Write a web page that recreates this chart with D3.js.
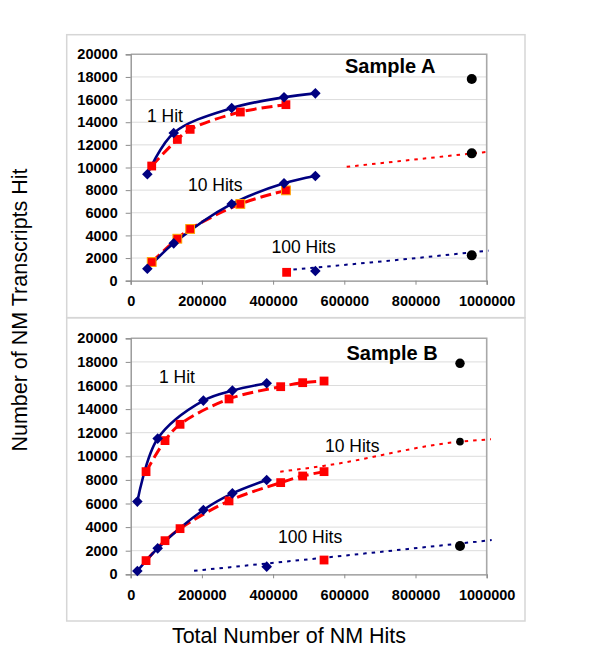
<!DOCTYPE html>
<html>
<head>
<meta charset="utf-8">
<script src="https://cdn.jsdelivr.net/npm/d3@7"></script>
<style>
  html, body { margin: 0; padding: 0; background: #fff; }
  svg text { font-family: "Liberation Sans", Arial, sans-serif; }
</style>
</head>
<body>
<svg id="chart" width="600" height="652"></svg>
<script>
// ---------------- DATA ----------------
const xTicks = [0, 200000, 400000, 600000, 800000, 1000000];
const yTicks = [0, 2000, 4000, 6000, 8000, 10000, 12000, 14000, 16000, 18000, 20000];

// Sample A
const aBlueX = [46800, 120800, 283700, 430700, 518700];
const aBlue1Hit = [9400, 13050, 15250, 16200, 16550];
const aBlue10Hits = [1060, 3300, 6780, 8600, 9250];
const aRedX = [59000, 131000, 167000, 308000, 436000];
const aRed1Hit = [10130, 12480, 13370, 14900, 15550];
const aRed10Hits = [1650, 3710, 4570, 6780, 7980];
const aBlue100X = [518700], aBlue100Hits = [850];
const aRed100X = [438000], aRed100Hits = [740];
const aTrend10X = [606700, 956000, 1005000];
const aTrend10Y = [10060, 11230, 11390];
const aTrend100X = [457000, 747000, 1005000];
const aTrend100Y = [990, 1830, 2660];
const aBlackX = [958000, 958000, 958000];
const aBlackY = [17820, 11250, 2240];

// Sample B
const bBlueX = [18700, 75800, 204100, 285600, 382000];
const bBlue1Hit = [6160, 11500, 14720, 15570, 16190];
const bBlue10Hits = [280, 2200, 5450, 6860, 7990];
const bRedX = [43100, 96400, 138600, 276200, 421300, 483100, 543100];
const bRed1Hit = [8700, 11330, 12710, 14860, 15900, 16240, 16380];
const bRed10Hits = [1160, 2850, 3870, 6220, 7770, 8330, 8700];
const bBlue100X = [382000], bBlue100Hits = [650];
const bRed100X = [543100], bRed100Hits = [1210];
const bTrend10X = [420000, 541000, 925000, 1012000];
const bTrend10Y = [8700, 9180, 11240, 11440];
const bTrend100X = [178000, 541000, 1014000];
const bTrend100Y = [300, 1400, 2900];
const bBlackX = [925000, 925000, 925000];
const bBlackY = [17880, 11240, 2400];

// ---------------- DRAW ----------------
const svg = d3.select("#chart");
const BLUE = "#000080", RED = "#ff0000";
const zip = (xs, ys) => xs.map((x, i) => [x, ys[i]]);

function panel(cfg) {
  const g = svg.append("g");
  g.append("rect").attr("x", 66.7).attr("y", cfg.boxTop).attr("width", 525 - 66.7)
    .attr("height", cfg.boxBottom - cfg.boxTop).attr("fill", "none")
    .attr("stroke", "#d6d6d6").attr("stroke-width", 1.5);

  const x = d3.scaleLinear().domain([0, 1000000]).range([130.7, 486.7]);
  const y = d3.scaleLinear().domain([0, 20000]).range([cfg.y0, cfg.y1]);

  g.append("g").selectAll("line").data(yTicks.filter(d => d > 0 && d < 20000)).join("line")
    .attr("x1", x(0)).attr("x2", x(1000000)).attr("y1", d => y(d)).attr("y2", d => y(d))
    .attr("stroke", "#dcdcdc").attr("stroke-width", 1);
  g.append("path").attr("d", `M${x(0)},${y(20000)}H${x(1000000)}V${y(0)}`)
    .attr("fill", "none").attr("stroke", "#a8a8a8").attr("stroke-width", 1.6);

  const yAxis = d3.axisLeft(y).tickValues(yTicks).tickSize(5).tickPadding(8).tickFormat(d3.format("d"));
  const xAxis = d3.axisBottom(x).tickValues(xTicks).tickSize(4).tickPadding(11).tickFormat(d3.format("d"));
  const ya = g.append("g").attr("transform", `translate(${x(0)},0)`).call(yAxis);
  const xa = g.append("g").attr("transform", `translate(0,${y(0)})`).call(xAxis);
  [ya, xa].forEach(a => {
    a.select(".domain").attr("stroke", "#8c8c8c").attr("stroke-width", 1.3);
    a.selectAll(".tick line").attr("stroke", "#8c8c8c");
    a.selectAll("text").attr("font-size", 14.5).attr("font-weight", "bold").attr("fill", "#000")
      .attr("font-family", "Liberation Sans, Arial, sans-serif");
  });

  const smooth = d3.line().x(d => x(d[0])).y(d => y(d[1])).curve(d3.curveCatmullRom.alpha(0.5));
  const trendLine = d3.line().x(d => x(d[0])).y(d => y(d[1])).curve(d3.curveMonotoneX);

  cfg.trends.forEach(t => {
    g.append("path").attr("d", trendLine(zip(t.x, t.y))).attr("fill", "none")
      .attr("stroke", t.color).attr("stroke-width", 2).attr("stroke-dasharray", "3.5,5");
  });

  cfg.red.forEach(s => {
    g.append("path").attr("d", smooth(zip(s.x, s.y))).attr("fill", "none")
      .attr("stroke", RED).attr("stroke-width", 3).attr("stroke-dasharray", "11,5");
  });
  cfg.blue.forEach(s => {
    g.append("path").attr("d", smooth(zip(s.x, s.y))).attr("fill", "none")
      .attr("stroke", BLUE).attr("stroke-width", 2.6);
  });

  cfg.redPts.forEach(s => {
    g.append("g").selectAll("rect").data(zip(s.x, s.y)).join("rect")
      .attr("x", d => x(d[0]) - 4.4).attr("y", d => y(d[1]) - 4.4)
      .attr("width", 8.8).attr("height", 8.8).attr("fill", RED)
      .attr("stroke", s.outline || "none").attr("stroke-width", s.outline ? 1 : 0);
  });
  const diamondPath = d3.symbol().type(d3.symbolSquare).size(56)();
  cfg.bluePts.forEach(s => {
    g.append("g").selectAll("path").data(zip(s.x, s.y)).join("path")
      .attr("transform", d => `translate(${x(d[0])},${y(d[1])}) rotate(45)`)
      .attr("d", diamondPath)
      .attr("fill", BLUE);
  });
  g.append("g").selectAll("circle").data(zip(cfg.black.x, cfg.black.y)).join("circle")
    .attr("cx", d => x(d[0])).attr("cy", d => y(d[1])).attr("r", (d, i) => cfg.black.r[i])
    .attr("fill", "#000");

  cfg.labels.forEach(l => {
    g.append("text").attr("x", l.px).attr("y", l.py).text(l.t)
      .attr("font-size", l.bold ? 20 : 17.5).attr("font-weight", l.bold ? "bold" : "normal")
      .attr("fill", "#000");
  });
}

panel({
  boxTop: 34.7, boxBottom: 317.7, y0: 280.7, y1: 54.3,
  trends: [
    { x: aTrend10X, y: aTrend10Y, color: RED },
    { x: aTrend100X, y: aTrend100Y, color: BLUE }
  ],
  red: [{ x: aRedX, y: aRed1Hit }, { x: aRedX, y: aRed10Hits }],
  blue: [{ x: aBlueX, y: aBlue1Hit }, { x: aBlueX, y: aBlue10Hits }],
  redPts: [
    { x: aRedX, y: aRed1Hit },
    { x: aRedX, y: aRed10Hits, outline: "#ffa500" },
    { x: aRed100X, y: aRed100Hits }
  ],
  bluePts: [
    { x: aBlueX, y: aBlue1Hit },
    { x: aBlueX, y: aBlue10Hits },
    { x: aBlue100X, y: aBlue100Hits }
  ],
  black: { x: aBlackX, y: aBlackY, r: [5, 5, 5] },
  labels: [
    { t: "Sample A", px: 345, py: 72.7, bold: true },
    { t: "1 Hit", px: 147, py: 122 },
    { t: "10 Hits", px: 188, py: 191 },
    { t: "100 Hits", px: 271.5, py: 253 }
  ]
});

panel({
  boxTop: 317.7, boxBottom: 621, y0: 574.3, y1: 338.3,
  trends: [
    { x: bTrend10X, y: bTrend10Y, color: RED },
    { x: bTrend100X, y: bTrend100Y, color: BLUE }
  ],
  red: [{ x: bRedX, y: bRed1Hit }, { x: bRedX, y: bRed10Hits }],
  blue: [{ x: bBlueX, y: bBlue1Hit }, { x: bBlueX, y: bBlue10Hits }],
  redPts: [
    { x: bRedX, y: bRed1Hit },
    { x: bRedX, y: bRed10Hits },
    { x: bRed100X, y: bRed100Hits }
  ],
  bluePts: [
    { x: bBlueX, y: bBlue1Hit },
    { x: bBlueX, y: bBlue10Hits },
    { x: bBlue100X, y: bBlue100Hits }
  ],
  black: { x: bBlackX, y: bBlackY, r: [4.7, 3.8, 5] },
  labels: [
    { t: "Sample B", px: 346.5, py: 359.5, bold: true },
    { t: "1 Hit", px: 159, py: 383 },
    { t: "10 Hits", px: 325, py: 452 },
    { t: "100 Hits", px: 278, py: 543 }
  ]
});

svg.append("text").attr("transform", "translate(27,310) rotate(-90)")
  .attr("text-anchor", "middle").attr("font-size", 21.5).attr("fill", "#000")
  .text("Number of NM Transcripts Hit");
svg.append("text").attr("x", 289).attr("y", 643)
  .attr("text-anchor", "middle").attr("font-size", 21.5).attr("fill", "#000")
  .text("Total Number of NM Hits");
</script>
</body>
</html>
